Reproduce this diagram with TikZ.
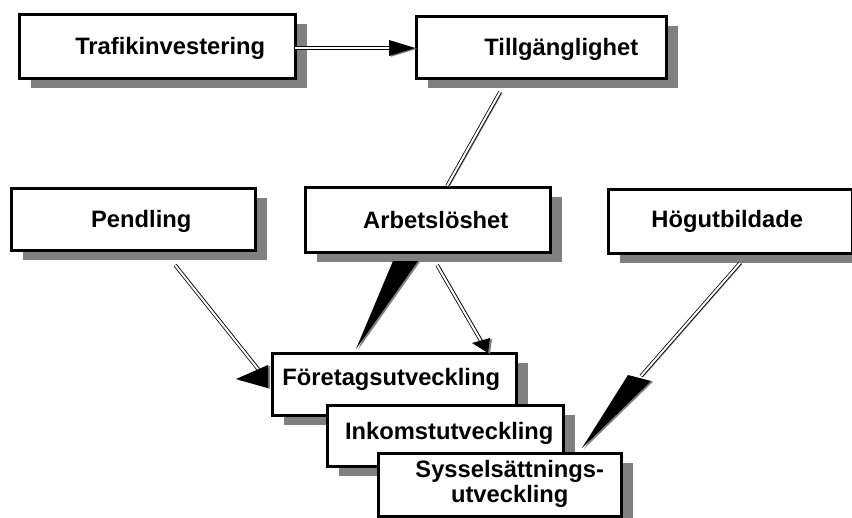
\documentclass[tikz,border=0pt]{standalone}
\usepackage{fontspec}
\setmainfont{Liberation Sans}
\usetikzlibrary{shadows}
\definecolor{shadowgray}{RGB}{128,128,128}
\tikzset{
  box/.style={draw, line width=1.9pt, fill=white, anchor=north west, inner sep=0pt,
    align=center, text height=12.8pt, text depth=0pt,
    font=\fontsize{17.8}{18.6}\selectfont\bfseries,
    drop shadow={shadow xshift=9pt, shadow yshift=-7.5pt, fill=shadowgray, opacity=1}},
  dline/.style={draw, line width=0.6pt, double=white, double distance=1.5pt,
    preaction={draw=shadowgray, line width=0.9pt, transform canvas={shift={(1.5pt,-0.4pt)}}}},
  wedge/.style={fill=black, preaction={fill=shadowgray, transform canvas={shift={(1.5pt,-0.6pt)}}}}
}
\begin{document}
\begin{tikzpicture}[x=0.75pt, y=-0.75pt]
  \useasboundingbox[fill=white] (0,0) rectangle (852,517);
  % top row
  \node[box, minimum width=207pt, minimum height=48pt] (traf) at (18,13) {\hspace*{19.5pt}Trafikinvestering};
  \node[box, minimum width=187.5pt, minimum height=46.5pt] (tillg) at (415,15) {\hspace*{30pt}Tillgänglighet};
  % middle row
  \node[box, minimum width=183pt, minimum height=46.5pt] (pend) at (10,187) {\hspace*{12pt}Pendling};
  \node[box, minimum width=183.75pt, minimum height=48.75pt] (arb) at (304,186) {\hspace*{12pt}Arbetslöshet};
  \node[box, minimum width=183pt, minimum height=48pt, text depth=3.75pt] (hog) at (607,188) {Högutbildade\hspace*{4.5pt}};
  % stacked outcome boxes
  \node[box, minimum width=183pt, minimum height=46.5pt, text depth=11pt] (fore) at (271,352) {Företagsutveckling\hspace*{4.5pt}};
  \node[box, minimum width=177pt, minimum height=45.75pt, text depth=6.75pt] (inko) at (326,404) {\hspace*{6pt}Inkomstutveckling};
  \node[box, minimum width=182.25pt, minimum height=47.25pt, text height=31.4pt, text depth=5.2pt] (syss) at (377,452) {\hspace*{15pt}Sysselsättnings-\\\hspace*{15pt}utveckling};

  % connector ends
  \coordinate (t1) at (295,48);
  \coordinate (t2) at (390,48);
  \coordinate (g1) at (500,92);
  \coordinate (g2) at (447,186);
  \coordinate (p1) at (175,265);
  \coordinate (p2) at (258,369);
  \coordinate (a1) at (437,265);
  \coordinate (a2) at (481,341);
  \coordinate (h1) at (740,263);
  \coordinate (h2) at (641,376);

  % Trafikinvestering -> Tillgaenglighet
  \draw[dline] (t1) -- (t2);
  \fill[wedge] (389,40) -- (tillg.west |- t2) -- (389,56) -- cycle;
  % Tillgaenglighet -- Arbetsloeshet
  \draw[dline] (g1) -- (g2);
  % Pendling -> Foeretagsutveckling
  \draw[dline] (p1) -- (p2);
  \fill[wedge] (268,365) -- (236,379) -- (268,388) -- cycle;
  % Arbetsloeshet -> Foeretagsutveckling
  \fill[wedge] (393,261) -- (418,261) -- (356,349) -- cycle;
  \draw[dline] (a1) -- (a2);
  \fill[wedge] (472,343) -- (490,338) -- (488,353) -- cycle;
  % Hoegutbildade -> Sysselsaettningsutveckling
  \draw[dline] (h1) -- (h2);
  \fill[wedge] (628,375) -- (651,381) -- (582,448) -- cycle;
\end{tikzpicture}
\end{document}
